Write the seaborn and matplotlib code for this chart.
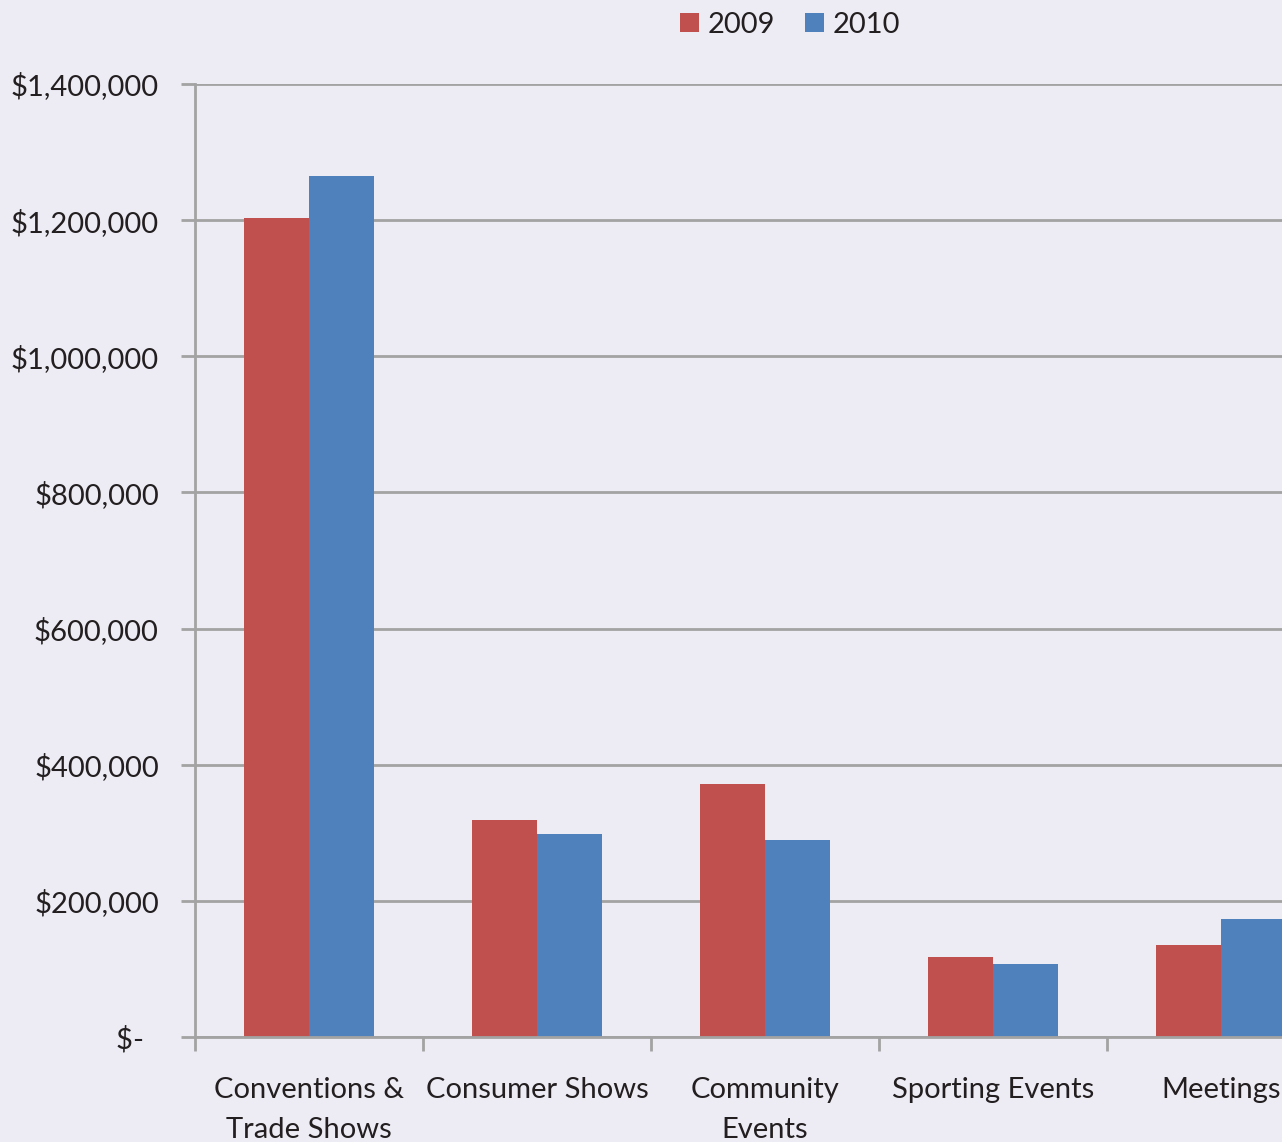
import pandas as pd
import matplotlib
matplotlib.use('Agg')
import matplotlib.pyplot as plt
import seaborn as sns

# dados
categorias = ['Conventions &\nTrade Shows', 'Consumer Shows', 'Community\nEvents',
              'Sporting Events', 'Meetings']
anos = ['2009', '2010']
valores_2009 = [1203000, 319000, 372000, 118000, 135000]
valores_2010 = [1265000, 298000, 289000, 107000, 173000]
yticks = [0, 200000, 400000, 600000, 800000, 1000000, 1200000, 1400000]
ytick_labels = ['$-  ', '$200,000', '$400,000', '$600,000', '$800,000',
                '$1,000,000', '$1,200,000', '$1,400,000']

df = pd.DataFrame({
    'Categoria': categorias * 2,
    'Ano': [anos[0]] * 5 + [anos[1]] * 5,
    'Valor': valores_2009 + valores_2010,
})

# estilo
bg = '#EDECF5'
cinza = '#A3A3A3'
texto = '#231F20'
sns.set_theme(style='white')
plt.rcParams['font.family'] = ['Lato', 'DejaVu Sans']

fig = plt.figure(figsize=(12.82, 11.42), dpi=100, facecolor=bg)
ax = fig.add_axes([195 / 1282, 1 - 1037 / 1142, 1140 / 1282, 953 / 1142])
ax.set_facecolor(bg)

sns.barplot(data=df, x='Categoria', y='Valor', hue='Ano',
            palette=['#C0504D', '#4F81BD'], width=0.57, saturation=1,
            linewidth=0, ax=ax, legend=True)

ax.set_xlim(-0.5, 4.5)
ax.set_ylim(0, 1400000)
ax.set_yticks(yticks)
ax.set_yticklabels(ytick_labels)
ax.yaxis.grid(True, color=cinza, linewidth=2)
ax.set_axisbelow(True)
ax.set_xlabel('')
ax.set_ylabel('')

for s in ['top', 'right']:
    ax.spines[s].set_visible(False)
for s in ['left', 'bottom']:
    ax.spines[s].set_color(cinza)
    ax.spines[s].set_linewidth(2)

ax.tick_params(axis='y', length=10, width=2, color=cinza, pad=16,
               labelsize=21, labelcolor=texto, left=True)
ax.tick_params(axis='x', which='major', length=0, pad=29,
               labelsize=21, labelcolor=texto)
ax.set_xticks([-0.5, 0.5, 1.5, 2.5, 3.5, 4.5], minor=True)
ax.tick_params(axis='x', which='minor', length=10, width=2, color=cinza, bottom=True)
for lbl in ax.get_xticklabels():
    lbl.set_linespacing(1.65)
    lbl.set_verticalalignment('top')

ax.get_legend().remove()
handles, labels = ax.get_legend_handles_labels()
fig.legend(handles, labels, loc='center', ncol=2,
           bbox_to_anchor=(790 / 1282, 1 - 25 / 1142), frameon=False,
           fontsize=21, handlelength=0.65, handleheight=0.65,
           handletextpad=0.3, columnspacing=1.0, labelcolor=texto)

fig.savefig('out.png', dpi=100, facecolor=bg)
